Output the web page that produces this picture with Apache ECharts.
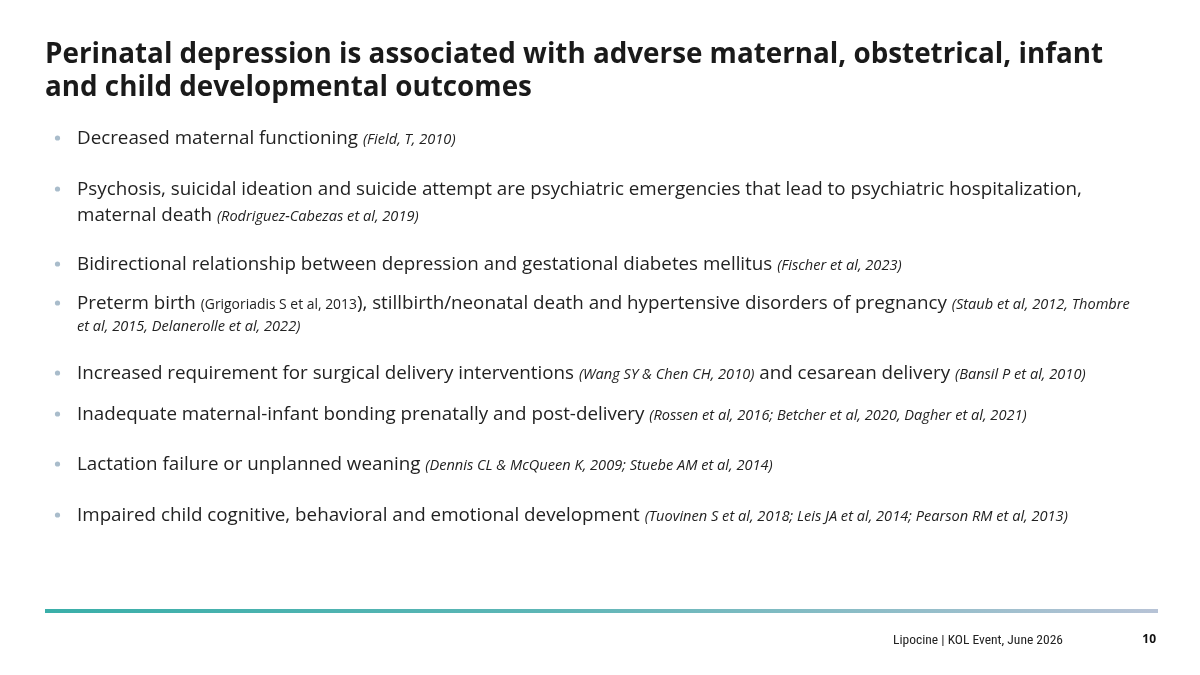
<!DOCTYPE html>
<html>
<head>
<meta charset="utf-8">
<script src="https://cdn.jsdelivr.net/npm/echarts@6/dist/echarts.min.js"></script>
<style>
html,body{margin:0;padding:0;background:#fff;}
#main{width:1200px;height:675px;}
</style>
</head>
<body>
<div id="main"></div>
<script>
// ---- content ----
const titleLines = [
  "Perinatal depression is associated with adverse maternal, obstetrical, infant",
  "and child developmental outcomes"
];
// each bullet: list of lines; each line: list of [styleKey, text]
// t = body text, c = italic citation, s = small upright citation
const bullet1 = [[["t","Decreased maternal functioning "],["c","(Field, T, 2010)"]]];
const bullet2 = [
  [["t","Psychosis, suicidal ideation and suicide attempt are psychiatric emergencies that lead to psychiatric hospitalization,"]],
  [["t","maternal death "],["c","(Rodriguez-Cabezas et al, 2019)"]]
];
const bullet3 = [[["t","Bidirectional relationship between depression and gestational diabetes mellitus "],["c","(Fischer et al, 2023)"]]];
const bullet4 = [
  [["t","Preterm birth "],["s","(Grigoriadis S et al, 2013"],["t","), stillbirth/neonatal death and hypertensive disorders of pregnancy "],["c","(Staub et al, 2012, Thombre"]],
  [["c","et al, 2015, Delanerolle et al, 2022)"]]
];
const bullet5 = [[["t","Increased requirement for surgical delivery interventions "],["c","(Wang SY & Chen CH, 2010)"],["t"," and cesarean delivery "],["c","(Bansil P et al, 2010)"]]];
const bullet6 = [[["t","Inadequate maternal-infant bonding prenatally and post-delivery "],["c","(Rossen et al, 2016; Betcher et al, 2020, Dagher et al, 2021)"]]];
const bullet7 = [[["t","Lactation failure or unplanned weaning "],["c","(Dennis CL & McQueen K, 2009; Stuebe AM et al, 2014)"]]];
const bullet8 = [[["t","Impaired child cognitive, behavioral and emotional development "],["c","(Tuovinen S et al, 2018; Leis JA et al, 2014; Pearson RM et al, 2013)"]]];
const bullets = [bullet1, bullet2, bullet3, bullet4, bullet5, bullet6, bullet7, bullet8];
const footerText = "Lipocine | KOL Event, June 2026";
const pageNumber = "10";

// ---- layout ----
const FONT = "'Open Sans', 'Noto Sans', sans-serif";
const bulletCenters = [137, 188, 263, 302, 372, 413, 463, 514];
const lineGaps = [26, 26, 26, 23, 26, 26, 26, 26];
const textX = 77, dotX = 57.5, textShift = 2;

const rich = {
  t: {fontFamily: FONT, fontSize: 18.8, color: '#222222', verticalAlign: 'bottom'},
  c: {fontFamily: FONT, fontSize: 14.6, fontStyle: 'italic', color: '#222222', verticalAlign: 'bottom', padding:[0,0,1,0]},
  s: {fontFamily: FONT, fontSize: 13.9, color: '#222222', verticalAlign: 'bottom', padding:[0,0,1,0]}
};

const graphics = [];
titleLines.forEach((ln, i) => {
  graphics.push({
    type: 'text', x: 45, y: 55 + i * 33,
    style: {text: ln, fontFamily: FONT, fontWeight: 'bold', fontSize: 27.8, fill: '#1a1a1a', verticalAlign: 'middle'}
  });
});
bullets.forEach((b, bi) => {
  graphics.push({
    type: 'circle', shape: {cx: dotX, cy: bulletCenters[bi] + 1, r: 2.6},
    style: {fill: '#a9bccb'}
  });
  b.forEach((line, li) => {
    const txt = line.map(seg => '{' + seg[0] + '|' + seg[1] + '}').join('');
    graphics.push({
      type: 'text', x: textX, y: bulletCenters[bi] + textShift + li * lineGaps[bi],
      style: {text: txt, rich: rich, verticalAlign: 'middle', fill: '#222'}
    });
  });
});
graphics.push({
  type: 'rect', shape: {x: 45, y: 609, width: 1113, height: 4},
  style: {fill: new echarts.graphic.LinearGradient(0, 0, 1, 0, [
    {offset: 0, color: '#3aafa9'}, {offset: 0.45, color: '#5db6b6'}, {offset: 1, color: '#b7c3d6'}
  ])}
});
graphics.push({
  type: 'text', x: 1063, y: 641,
  style: {text: footerText, fontFamily: "'Liberation Sans Narrow', 'Roboto Condensed', 'Roboto', sans-serif", fontSize: 13.5, fill: '#222', align: 'right', verticalAlign: 'middle'}
});
graphics.push({
  type: 'text', x: 1156, y: 640,
  style: {text: pageNumber, fontFamily: FONT, fontWeight: 'bold', fontSize: 12, fill: '#111', align: 'right', verticalAlign: 'middle'}
});

const chart = echarts.init(document.getElementById('main'), null, {renderer: 'canvas'});
chart.setOption({
  backgroundColor: '#ffffff',
  animation: false,
  graphic: {elements: graphics}
});
</script>
</body>
</html>
